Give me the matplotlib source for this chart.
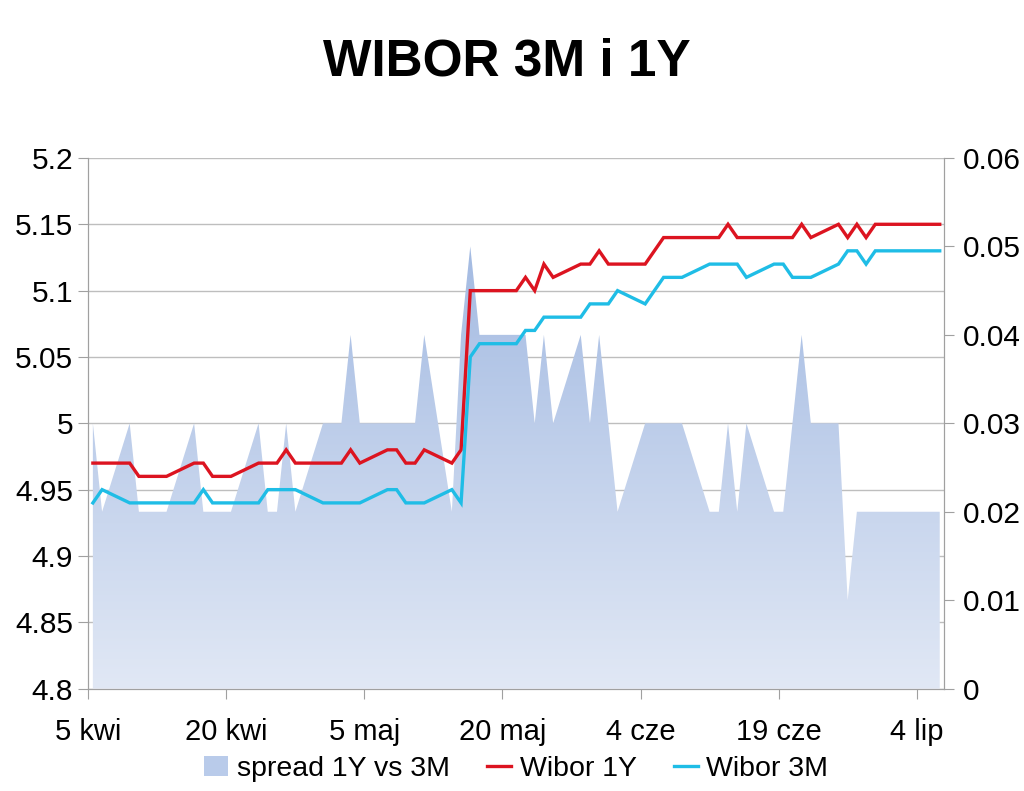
import numpy as np
import pandas as pd
import matplotlib
matplotlib.use("Agg")
import matplotlib.pyplot as plt
import matplotlib.dates as mdates
from matplotlib.colors import LinearSegmentedColormap
from matplotlib.patches import Patch
from matplotlib.lines import Line2D

plt.rcParams['font.family'] = ['Liberation Sans', 'DejaVu Sans']

# business days 5 Apr - 6 Jul 2012
dates = pd.bdate_range("2012-04-05", "2012-07-06")

wibor_1y = [4.97, 4.97,
            4.97, 4.96, 4.96, 4.96, 4.96,
            4.97, 4.97, 4.96, 4.96, 4.96,
            4.97, 4.97, 4.97, 4.98, 4.97,
            4.97, 4.97, 4.97, 4.98, 4.97,
            4.98, 4.98, 4.97, 4.97, 4.98,
            4.97, 4.98, 5.10, 5.10, 5.10,
            5.10, 5.11, 5.10, 5.12, 5.11,
            5.12, 5.12, 5.13, 5.12, 5.12,
            5.12, 5.13, 5.14, 5.14, 5.14,
            5.14, 5.14, 5.15, 5.14, 5.14,
            5.14, 5.14, 5.14, 5.15, 5.14,
            5.15, 5.14, 5.15, 5.14, 5.15,
            5.15, 5.15, 5.15, 5.15, 5.15]

wibor_3m = [4.94, 4.95,
            4.94, 4.94, 4.94, 4.94, 4.94,
            4.94, 4.95, 4.94, 4.94, 4.94,
            4.94, 4.95, 4.95, 4.95, 4.95,
            4.94, 4.94, 4.94, 4.94, 4.94,
            4.95, 4.95, 4.94, 4.94, 4.94,
            4.95, 4.94, 5.05, 5.06, 5.06,
            5.06, 5.07, 5.07, 5.08, 5.08,
            5.08, 5.09, 5.09, 5.09, 5.10,
            5.09, 5.10, 5.11, 5.11, 5.11,
            5.12, 5.12, 5.12, 5.12, 5.11,
            5.12, 5.12, 5.11, 5.11, 5.11,
            5.12, 5.13, 5.13, 5.12, 5.13,
            5.13, 5.13, 5.13, 5.13, 5.13]

spread = np.round(np.array(wibor_1y) - np.array(wibor_3m), 2)

tick_dates = ["2012-04-05", "2012-04-20", "2012-05-05", "2012-05-20",
              "2012-06-04", "2012-06-19", "2012-07-04"]
tick_labels = ["5 kwi", "20 kwi", "5 maj", "20 maj", "4 cze", "19 cze", "4 lip"]

# points sit in the middle of their day, like Excel's date axis
x = mdates.date2num(dates) + 0.5
x_lim = mdates.date2num(pd.to_datetime(["2012-04-05", "2012-07-07"]))

red = "#DC1420"
cyan = "#1FBDE6"
grey = "#A0A0A0"

fig = plt.figure(figsize=(10.24, 7.91), dpi=100)
pos = [0.0862, 0.1294, 0.8360, 0.6709]

ax = fig.add_axes(pos)          # left scale, grid
ax2 = ax.twinx()                # right scale, spread area
ax3 = ax.twinx()                # left scale again, lines on top
ax2.set_zorder(1)
ax3.set_zorder(2)
ax2.patch.set_visible(False)
ax3.patch.set_visible(False)

ax.set_xlim(x_lim)
ax.set_ylim(4.8, 5.2)
ax.set_yticks(np.arange(4.8, 5.201, 0.05))
ax.set_yticklabels(["4.8", "4.85", "4.9", "4.95", "5", "5.05", "5.1", "5.15", "5.2"])
ax.grid(axis="y", color="#BEBEBE", lw=1.0)
ax.set_axisbelow(True)

ax2.set_ylim(0, 0.06)
ax2.set_yticks(np.arange(0, 0.0601, 0.01))
ax2.set_yticklabels(["0", "0.01", "0.02", "0.03", "0.04", "0.05", "0.06"])

# spread area with vertical gradient
poly = ax2.fill_between(x, 0, spread, facecolor="none", edgecolor="none")
cmap = LinearSegmentedColormap.from_list("sp", ["#E1E8F5", "#A0B8E1"])
grad = np.linspace(0, 1, 256).reshape(-1, 1)
im = ax2.imshow(grad, cmap=cmap, origin="lower", aspect="auto",
                extent=[x_lim[0], x_lim[1], 0, 0.053], zorder=1)
im.set_clip_path(poly.get_paths()[0], transform=ax2.transData)
ax2.set_xlim(x_lim)
ax2.set_ylim(0, 0.06)

ax3.set_ylim(4.8, 5.2)
ax3.plot(x, wibor_1y, color=red, lw=2.4, solid_joinstyle="miter")
ax3.plot(x, wibor_3m, color=cyan, lw=2.4, solid_joinstyle="miter")
ax3.set_yticks([])
ax3.set_xlim(x_lim)

ax.set_xticks(mdates.date2num(pd.to_datetime(tick_dates)))
ax.set_xticklabels(tick_labels)

for a in (ax, ax2, ax3):
    a.spines["top"].set_visible(False)
    for s in ("left", "right", "bottom"):
        a.spines[s].set_color(grey)
ax3.spines["left"].set_visible(False)
ax3.spines["right"].set_visible(False)
ax3.spines["bottom"].set_visible(False)

ax.tick_params(axis="y", labelsize=21.5, length=7, color=grey, pad=4)
ax.tick_params(axis="x", labelsize=21, length=7, color=grey, pad=14)
ax2.tick_params(axis="y", labelsize=21.5, length=7, color=grey, pad=6)

fig.text(0.495, 0.922, "WIBOR 3M i 1Y", ha="center", va="center",
         fontsize=37, fontweight="bold")

handles = [Patch(facecolor="#B9CBEA", edgecolor="none"),
           Line2D([], [], color=red, lw=2.4),
           Line2D([], [], color=cyan, lw=2.4)]
ax.legend(handles, ["spread 1Y vs 3M", "Wibor 1Y", "Wibor 3M"],
          loc="center", bbox_to_anchor=(0.5, -0.152), ncol=3, frameon=False,
          fontsize=20.5, handlelength=0.85, handletextpad=0.3, columnspacing=1.3)

fig.savefig("out.png", dpi=100)
